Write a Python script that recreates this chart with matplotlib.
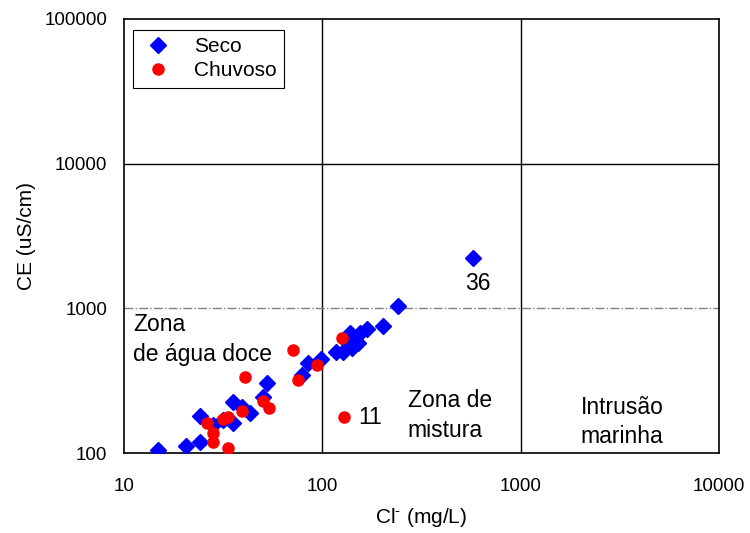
import numpy as np
import matplotlib.pyplot as plt

plt.rcParams['font.family'] = ['Liberation Sans', 'DejaVu Sans']
plt.rcParams['mathtext.fontset'] = 'custom'
plt.rcParams['mathtext.rm'] = 'Liberation Sans'
plt.rcParams['mathtext.default'] = 'regular'

# Seco (dry season)
seco_cl = [14.8, 20.5, 24.2, 24.2, 28.1, 31.6, 35.4, 35.4, 39.4, 43.2, 52.6, 50.2,
           79.0, 84.7, 98.5, 117, 127, 135, 141, 138, 146, 151, 155, 168, 202, 241, 575]
seco_ce = [105, 112, 119, 180, 156, 169, 225, 161, 208, 189, 304, 243,
           345, 418, 445, 497, 497, 574, 530, 672, 621, 574, 672, 716, 751, 1032, 2212]

# Chuvoso (wet season)
chuv_cl = [71.2, 126, 40.8, 94.0, 75.4, 50.2, 53.8, 39.4, 33.5, 31.6, 26.2, 28.1, 28.1, 33.5, 129]
chuv_ce = [513, 621, 334, 404, 319, 228, 204, 195, 177, 172, 161, 137, 119, 108, 177]

fig = plt.figure(figsize=(7.5, 5.33), dpi=100)
ax = fig.add_axes([0.1653, 0.150, 0.7934, 0.8144])

ax.set_xscale('log')
ax.set_yscale('log')
ax.set_xlim(10, 10000)
ax.set_ylim(100, 100000)

# zone boundaries
ax.axvline(100, color='black', lw=1, zorder=1)
ax.axvline(1000, color='black', lw=1, zorder=1)
ax.axhline(10000, color='black', lw=1, zorder=1)
ax.axhline(1000, color='gray', lw=1, ls='-.', zorder=1)

ax.plot(seco_cl, seco_ce, 'D', color='#0000ff', ms=8.5, ls='none', label='Seco', zorder=3)
ax.plot(chuv_cl, chuv_ce, 'o', color='#ff0000', ms=8, ls='none', label='Chuvoso', zorder=4)

fs = 16.5
ax.text(610, 1480, '36', fontsize=fs, ha='center', va='center')
ax.text(152, 177, '11', fontsize=fs, ha='left', va='center')
ax.text(11.1, 610, 'Zona\nde água doce', fontsize=fs, ha='left', va='center', linespacing=1.35)
ax.text(270, 182, 'Zona de\nmistura', fontsize=fs, ha='left', va='center', linespacing=1.35)
ax.text(3250, 164, 'Intrusão\nmarinha', fontsize=fs, ha='center', va='center', linespacing=1.35)

ax.set_xticks([10, 100, 1000, 10000])
ax.set_xticklabels(['10', '100', '1000', '10000'])
ax.set_yticks([100, 1000, 10000, 100000])
ax.set_yticklabels(['100', '1000', '10000', '100000'])
ax.minorticks_off()
ax.tick_params(axis='both', length=0, labelsize=13.5)
ax.tick_params(axis='x', pad=18)
ax.tick_params(axis='y', pad=12)

ax.set_xlabel(r'Cl$^{\text{-}}$ (mg/L)', fontsize=15, labelpad=8)
ax.set_ylabel('CE (uS/cm)', fontsize=15, labelpad=6)

for sp in ax.spines.values():
    sp.set_linewidth(1.2)

leg = ax.legend(loc='upper left', bbox_to_anchor=(0.015, 0.975), borderaxespad=0,
                fontsize=15, fancybox=False, framealpha=1, edgecolor='black',
                borderpad=0.35, handletextpad=0.9, labelspacing=0.25, handlelength=1.7)
leg.get_frame().set_linewidth(0.8)

fig.savefig('out.png', dpi=100)
